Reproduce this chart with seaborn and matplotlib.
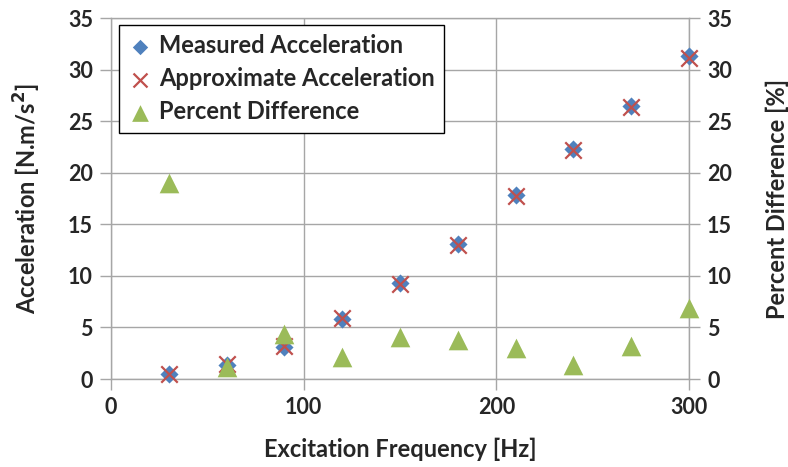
import matplotlib
matplotlib.use("Agg")
import matplotlib.pyplot as plt
import seaborn as sns
import pandas as pd

# Excitation frequencies and measured results
frequency_hz = [30, 60, 90, 120, 150, 180, 210, 240, 270, 300]
measured_accel = [0.5, 1.4, 3.1, 5.8, 9.3, 13.1, 17.8, 22.3, 26.5, 31.3]
approx_accel = [0.45, 1.5, 3.2, 5.9, 9.2, 13.0, 17.7, 22.2, 26.4, 31.1]
percent_diff = [19.0, 1.2, 4.4, 2.1, 4.1, 3.8, 3.0, 1.4, 3.2, 6.9]

x_ticks = [0, 100, 200, 300]
y_ticks = [0, 5, 10, 15, 20, 25, 30, 35]

df = pd.DataFrame({
    "freq": frequency_hz,
    "measured": measured_accel,
    "approx": approx_accel,
    "pct": percent_diff,
})

sns.set_style("white")
plt.rcParams["font.family"] = ["Lato", "DejaVu Sans"]
plt.rcParams["font.weight"] = "bold"
plt.rcParams["mathtext.default"] = "bf"

BLUE = "#4f81bd"
RED = "#c0504d"
GREEN = "#9bbb59"
GRID = "#a6a6a6"
TICK_FS = 15.5
LABEL_FS = 17
LEGEND_FS = 17

fig = plt.figure(figsize=(7.88, 4.67), dpi=100)
ax = fig.add_axes([111 / 788, 1 - 379 / 467, (689 - 111) / 788, (379 - 18) / 467])
ax2 = ax.twinx()

sns.scatterplot(data=df, x="freq", y="measured", ax=ax, marker="D", s=85,
                color=BLUE, edgecolor=BLUE, linewidth=0, label="Measured Acceleration",
                zorder=3, clip_on=False)
sns.scatterplot(data=df, x="freq", y="approx", ax=ax, marker="x", s=140,
                color=RED, linewidth=1.6, label="Approximate Acceleration", zorder=4,
                clip_on=False)
sns.scatterplot(data=df, x="freq", y="pct", ax=ax2, marker="^", s=200,
                color=GREEN, edgecolor=GREEN, linewidth=0, label="Percent Difference",
                zorder=3, clip_on=False)

for a in (ax, ax2):
    a.set_xlim(0, 300)
    a.set_ylim(0, 35)
    a.set_yticks(y_ticks)
    for s in a.spines.values():
        s.set_visible(False)

ax.set_xticks(x_ticks)
ax.grid(True, color=GRID, linewidth=1.0)
ax.set_axisbelow(True)
for side in ("left", "bottom", "right", "top"):
    ax.spines[side].set_visible(True)
    ax.spines[side].set_color(GRID)
    ax.spines[side].set_linewidth(1.0)
    ax.spines[side].set_zorder(0.5)

ax.tick_params(axis="both", direction="out", length=8, width=1.0, color=GRID,
               labelsize=TICK_FS, pad=5, left=True, bottom=True)
ax2.tick_params(axis="y", direction="out", length=8, width=1.0, color=GRID,
                labelsize=TICK_FS, pad=5, right=True)
for lab in ax.get_xticklabels() + ax.get_yticklabels() + ax2.get_yticklabels():
    lab.set_fontweight("bold")

ax.set_xlabel("Excitation Frequency [Hz]", fontsize=LABEL_FS, fontweight="bold", labelpad=14)
ax.set_ylabel("Acceleration [N.m/s$^2$]", fontsize=LABEL_FS, fontweight="bold", labelpad=18)
ax2.set_ylabel("Percent Difference [%]", fontsize=LABEL_FS, fontweight="bold", labelpad=24)

h1, l1 = ax.get_legend_handles_labels()
h2, l2 = ax2.get_legend_handles_labels()
if ax.get_legend() is not None:
    ax.get_legend().remove()
if ax2.get_legend() is not None:
    ax2.get_legend().remove()
leg = ax2.legend(h1 + h2, l1 + l2, loc="upper left", bbox_to_anchor=(0.014, 0.981),
                 borderaxespad=0, frameon=True, fancybox=False, edgecolor="black",
                 framealpha=1, prop={"size": LEGEND_FS, "weight": "bold"},
                 handletextpad=0.3, handlelength=1.0, borderpad=0.4,
                 labelspacing=0.42, markerscale=0.85)
leg.get_frame().set_linewidth(1.0)

fig.savefig("out.png", dpi=100)
